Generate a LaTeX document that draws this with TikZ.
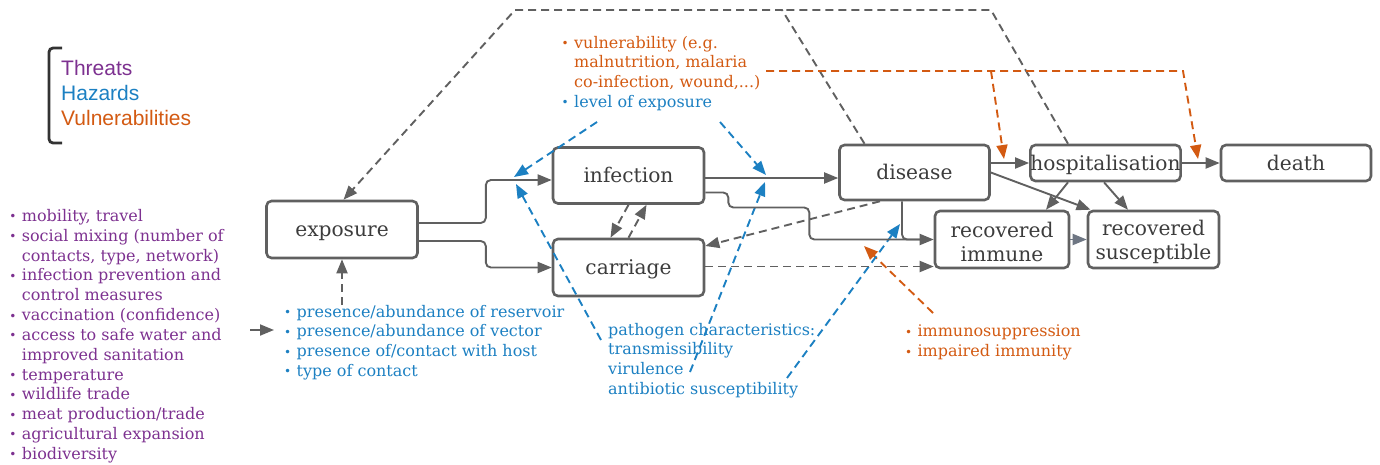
\documentclass[tikz,border=0pt]{standalone}
\usepackage{fontspec}
\setmainfont{DejaVu Serif}
\newfontfamily\legfont{Liberation Sans}
\usetikzlibrary{arrows.meta,calc}
\definecolor{thr}{HTML}{7D3190}
\definecolor{haz}{HTML}{1C80C2}
\definecolor{vul}{HTML}{D35A12}
\definecolor{ln}{HTML}{606060}
\definecolor{tx}{HTML}{3C3C3C}
\definecolor{brk}{HTML}{333333}
\definecolor{ri}{HTML}{6E7683}
\newcommand\mybul{\makebox[12.5pt][l]{\raisebox{0.5pt}{\fontsize{12}{12}\selectfont •}}}
\newcommand\myind{\hspace*{12.5pt}}
\begin{document}
\begin{tikzpicture}[x=1pt,y=-1pt,
  boxbase/.style={draw=ln, line width=2.6pt, rounded corners=5pt, text=tx, font=\fontsize{20.2}{24}\selectfont, align=center, inner sep=0pt},
  box/.style={boxbase, text height=19pt, text depth=4.5pt},
  box2/.style={boxbase},
  tipg/.style={-{Triangle[length=14pt,width=11pt]}},
  gline/.style={draw=ln, line width=1.9pt},
  flow/.style={gline, tipg},
  gdash/.style={draw=ln, line width=1.9pt, dash pattern=on 8pt off 5pt},
  bdash/.style={draw=haz, line width=1.9pt, dash pattern=on 8pt off 5pt, tipg},
  odash/.style={draw=vul, line width=1.9pt, dash pattern=on 8pt off 5pt, tipg},
  lst/.style={anchor=north west, inner sep=0pt, align=left, font=\fontsize{16}{19.6}\selectfont}
]
\useasboundingbox (0,0) rectangle (1380,464);

% legend
\draw[brk, line width=2.8pt, rounded corners=4pt] (62,48) -- (49,48) -- (49,143) -- (62,143);
\node[anchor=north west, inner sep=0pt, align=left, font=\legfont\fontsize{21}{25}\selectfont] (legend) at (61,60)
  {\textcolor{thr}{Threats}\\ \textcolor{haz}{Hazards}\\ \textcolor{vul}{Vulnerabilities}};

% state boxes
\node[box, minimum width=151pt, minimum height=57pt] (exposure) at (342,229.5) {exposure};
\node[box, minimum width=151pt, minimum height=56pt] (infection) at (628.5,175.5) {infection};
\node[box, minimum width=151pt, minimum height=57pt] (carriage) at (628.5,267.5) {carriage};
\node[box, minimum width=150pt, minimum height=55pt] (disease) at (914.5,172.5) {disease};
\node[box, minimum width=149pt, minimum height=36pt] (hosp) at (1105.5,163) {hospitalisation};
\node[box, minimum width=150pt, minimum height=36pt] (death) at (1296,163) {death};
\node[box2, minimum width=134pt, minimum height=57pt] (recimm) at (1002,239.5) {\rule{0pt}{20pt}recovered\\immune};
\node[box2, minimum width=131pt, minimum height=57pt] (recsus) at (1153.5,239.5) {\rule{0pt}{20pt}recovered\\susceptible};

% text lists
\node[lst, text=thr, font=\fontsize{16}{19.83}\selectfont] (threats) at (9.2,209) {\mybul mobility, travel\\
 \mybul social mixing (number of\\ \myind contacts, type, network)\\
 \mybul infection prevention and\\ \myind control measures\\
 \mybul vaccination (confidence)\\
 \mybul access to safe water and\\ \myind improved sanitation\\
 \mybul temperature\\
 \mybul wildlife trade\\
 \mybul meat production/trade\\
 \mybul agricultural expansion\\
 \mybul biodiversity};
\node[lst, text=haz] (hazards) at (284,305) {\mybul presence/abundance of reservoir\\
 \mybul presence/abundance of vector\\
 \mybul presence of/contact with host\\
 \mybul type of contact};
\node[lst, text=vul] (vuln) at (561.5,36) {\mybul vulnerability (e.g.\\
 \myind malnutrition, malaria\\
 \myind co-infection, wound,...)\\
 \textcolor{haz}{\mybul level of exposure}};
\node[lst, text=haz] (pathogen) at (608,323) {pathogen characteristics:\\
 transmissibility\\ virulence\\ antibiotic susceptibility};
\node[lst, text=vul] (immuno) at (904.8,325) {\mybul immunosuppression\\ \mybul impaired immunity};

% coordinates
\coordinate (tl) at (515,10);
\coordinate (tm) at (782,10);
\coordinate (tr) at (991,10);
\coordinate (o0) at (766,71);
\coordinate (o1) at (991,71);
\coordinate (o2) at (1183,71);
\coordinate (dh) at (1004,159);
\coordinate (hd) at (1198,159);
\coordinate (b0) at (597,122);
\coordinate (b1) at (720,122);
\coordinate (eiT) at (514,177);
\coordinate (eiB) at (516,184);
\coordinate (idT) at (766,175);
\coordinate (idB) at (765,182);
\coordinate (drI) at (900,224);
\coordinate (riO) at (864,246);
\coordinate (p1) at (601,340);
\coordinate (p2) at (690,372);
\coordinate (p3) at (787,378);
\coordinate (im) at (933,313);
\coordinate (ta) at (250,330);
\coordinate (ie) at ([yshift=-2.5pt]infection.east);
\coordinate (cr) at ([yshift=1pt]carriage.east);

% grey dashed top
\draw[gdash, tipg] ([xshift=-50pt]disease.north) -- (tm) -- (tl) -- ([xshift=1.5pt]exposure.north);
\draw[gdash] ([xshift=-37.5pt]hosp.north) -- (tr) -- (tm);

% orange vulnerability
\draw[odash] (o0) -- (o2) -- (hd);
\draw[odash] (o1) -- (dh);
\draw[odash] (im) -- (riO);

% blue hazards
\draw[bdash] (b0) -- (eiT);
\draw[bdash] (b1) -- (idT);
\draw[bdash] (p1) -- (eiB);
\draw[bdash] (p2) -- (idB);
\draw[bdash] (p3) -- (drI);

% solid flows
\draw[flow, rounded corners=5pt] ([yshift=6.5pt]exposure.east) -- ++(67,0) |- ([yshift=-4.5pt]infection.west);
\draw[flow, rounded corners=5pt] ([yshift=-11.5pt]exposure.east) -- ++(67,0) |- (carriage.west);
\draw[flow] (ie) -- (ie -| disease.west);
\draw[flow, rounded corners=5pt] ([yshift=-17pt]infection.east) -- ++(23,0) -- ++(0,15) -- ++(81,0) |- (recimm.west);
\draw[gline, rounded corners=5pt] ([xshift=-12.5pt]disease.south) |- ([xshift=-12pt]recimm.west);
\draw[flow] (disease.east |- hosp.west) -- (hosp.west);
\draw[flow] (hosp.east) -- (death.west);
\draw[flow] (disease.east) -- ([xshift=-63pt]recsus.north);
\draw[flow] ([xshift=-37.5pt]hosp.south) -- ([xshift=44pt]recimm.north);
\draw[flow] ([xshift=-1.5pt]hosp.south) -- ([xshift=-25.5pt]recsus.north);
\draw[flow, draw=ri] (recimm.east) -- (recsus.west);
\draw[flow] (ta) -- ([xshift=-10pt]ta -| hazards.west);

% grey dashed flows
\draw[gdash, tipg] (exposure.south |- hazards.north) -- (exposure.south);
\draw[gdash, tipg] ([xshift=-34.5pt]disease.south) -- ([yshift=21.5pt]carriage.east);
\draw[gdash, tipg] (cr) -- (cr -| recimm.west);
\draw[gdash, tipg] (infection.south) -- ([xshift=-18pt]carriage.north);
\draw[gdash, tipg] (carriage.north) -- ([xshift=18pt]infection.south);
\end{tikzpicture}
\end{document}
